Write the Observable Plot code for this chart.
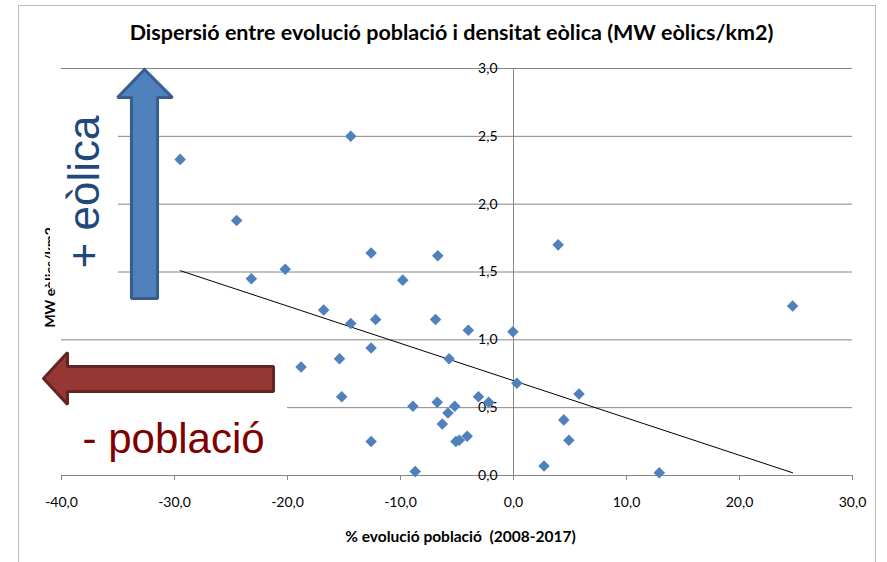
<!DOCTYPE html>
<html><head><meta charset="utf-8">
<script src="https://cdn.jsdelivr.net/npm/d3@7"></script>
<script src="https://cdn.jsdelivr.net/npm/@observablehq/plot@0.6"></script>
<style>
body{margin:0;background:#fff;}
#wrap{position:relative;width:887px;height:562px;overflow:hidden;background:#fff;}
#border{position:absolute;left:18px;top:5px;width:858px;height:620px;border:1px solid #bcbcbc;pointer-events:none;box-sizing:border-box;}
</style></head><body>
<div id="wrap"><div id="border"></div></div>
<script>
const title = "Dispersió entre evolució població i densitat eòlica (MW eòlics/km2)";
const xLabel = "% evolució població \u00A0(2008-2017)";
const yLabel = "MW eòlics/km2";
const upText = "+ eòlica";
const leftText = "- població";

// % population change (x) and wind density MW/km2 (y)
const popChange = [-29.5, -14.4, -24.5, -23.2, -20.2, -12.6, -6.7, -9.8, -16.8, -14.4,
  -12.2, -6.9, -4.0, -0.05, -12.6, -15.4, -5.7, -18.8, -15.2, -12.6,
  -8.9, -8.7, -6.75, -5.8, -5.2, -6.3, -5.1, -4.8, -4.1, -3.1,
  -2.2, 0.3, 2.7, 4.45, 4.9, 5.8, 3.95, 24.7, 12.9];
const windDensity = [2.33, 2.50, 1.88, 1.45, 1.52, 1.64, 1.62, 1.44, 1.22, 1.12,
  1.15, 1.15, 1.07, 1.06, 0.94, 0.86, 0.86, 0.80, 0.58, 0.25,
  0.51, 0.03, 0.54, 0.46, 0.51, 0.38, 0.25, 0.26, 0.29, 0.58,
  0.54, 0.68, 0.07, 0.41, 0.26, 0.60, 1.70, 1.25, 0.02];

// linear trendline endpoints
const trendX = [-29.5, 24.7];
const trendY = [1.51, 0.02];

const xTicks = [-40, -30, -20, -10, 0, 10, 20, 30];
const yTicks = [0, 0.5, 1, 1.5, 2, 2.5, 3];

// annotation shapes (data units)
const upArrowX = [-32.66, -30.18, -31.50, -31.50, -33.81, -33.81, -35.04, -32.66];
const upArrowY = [2.993, 2.786, 2.786, 1.305, 1.305, 2.786, 2.786, 2.993];
const leftArrowX = [-41.59, -39.47, -39.47, -21.24, -21.24, -39.47, -39.47, -41.59];
const leftArrowY = [0.715, 0.907, 0.803, 0.803, 0.619, 0.619, 0.523, 0.715];
const upBox = [{x1: -40.97, x2: -34.96, y1: 1.378, y2: 2.80}];
const leftBox = [{x1: -41.86, x2: -20.0, y1: 0.037, y2: 0.516}];

const fmt = d => d.toFixed(1).replace(".", ",");
const points = popChange.map((x, i) => ({x, y: windDensity[i]}));
const trend = trendX.map((x, i) => ({x, y: trendY[i]}));
const upArrow = upArrowX.map((x, i) => ({x, y: upArrowY[i]}));
const leftArrow = leftArrowX.map((x, i) => ({x, y: leftArrowY[i]}));
const grid = "#868686";

const chart = Plot.plot({
  width: 887, height: 562,
  marginLeft: 61, marginRight: 35, marginTop: 68, marginBottom: 87,
  style: {fontFamily: "Lato, sans-serif", fontSize: "14px", background: "transparent"},
  x: {domain: [-40, 30], axis: null},
  y: {domain: [0, 3], axis: null},
  marks: [
    Plot.gridY(yTicks, {stroke: grid, strokeOpacity: 1}),
    Plot.ruleY([0], {stroke: grid}),
    Plot.ruleX([0], {stroke: grid}),
    Plot.text([yLabel], {x: -40.93, y: 1.09, rotate: -90, textAnchor: "start", lineAnchor: "middle", fontWeight: "bold", fontSize: 14, fill: "black"}),
    Plot.rect(upBox, {x1: "x1", x2: "x2", y1: "y1", y2: "y2", fill: "white"}),
    Plot.rect(leftBox, {x1: "x1", x2: "x2", y1: "y1", y2: "y2", fill: "white"}),
    Plot.axisX(xTicks, {tickSize: 5, tickPadding: 17, tickFormat: fmt, stroke: grid, fill: "black", fontSize: 14, label: null}),
    Plot.text(yTicks, {x: 0, y: d => d, text: fmt, textAnchor: "end", dx: -16, fontSize: 14, fill: "black"}),
    Plot.line(trend, {x: "x", y: "y", stroke: "black", strokeWidth: 1}),
    Plot.dot(points, {x: "x", y: "y", symbol: "diamond2", r: 5.2, fill: "#4F81BD", stroke: "none"}),
    Plot.line(upArrow, {x: "x", y: "y", fill: "#4F81BD", stroke: "#385D8A", strokeWidth: 3, strokeLinejoin: "miter"}),
    Plot.line(leftArrow, {x: "x", y: "y", fill: "#953735", stroke: "#632523", strokeWidth: 3, strokeLinejoin: "miter"}),
    Plot.text([upText], {x: -37.96, y: 1.526, rotate: -90, textAnchor: "start", lineAnchor: "middle", fontSize: 44, fontFamily: "Liberation Sans, Arial, sans-serif", fill: "#1F497D"}),
    Plot.text([leftText], {x: -38.14, y: 0.268, textAnchor: "start", lineAnchor: "middle", fontSize: 42, fontFamily: "Liberation Sans, Arial, sans-serif", fill: "#800000"}),
    Plot.text([title], {frameAnchor: "top", dy: -35.5, dx: -5.5, lineAnchor: "middle", fontSize: 21.5, fontWeight: "bold", fill: "black"}),
    Plot.text([xLabel], {frameAnchor: "bottom", dy: 62, dx: 3.5, lineAnchor: "middle", fontSize: 15.5, fontWeight: "bold", fill: "black"})
  ]
});
document.getElementById("wrap").prepend(chart);
</script>
</body></html>
